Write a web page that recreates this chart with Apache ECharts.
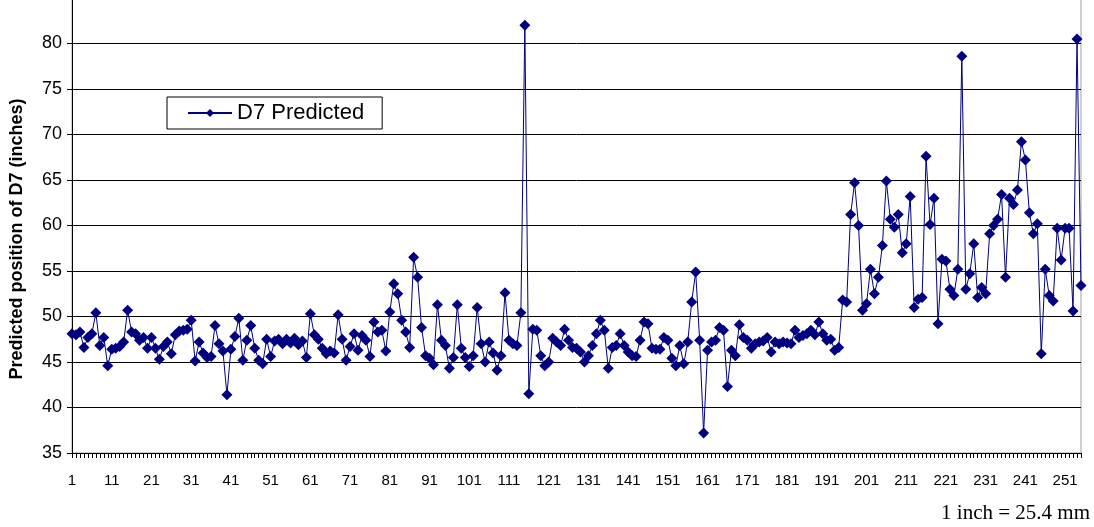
<!DOCTYPE html>
<html>
<head>
<meta charset="utf-8">
<script src="https://cdn.jsdelivr.net/npm/echarts@6/dist/echarts.min.js"></script>
<style>
  html, body { margin: 0; padding: 0; background: #fff; overflow: hidden; }
  /* shifted up a little so the unlabeled 85 line sits just above the page edge */
  #chart { position: absolute; left: 0; top: -10px; width: 1094px; height: 537px; }
</style>
</head>
<body>
<div id="chart"></div>
<script>
// D7 predicted position, one value per sample (inches)
const d7Predicted = [
  48.1, 48.0, 48.3, 46.6, 47.7, 48.1, 50.4, 46.8, 47.7, 44.6,
  46.4, 46.5, 46.7, 47.2, 50.7, 48.3, 48.1, 47.4, 47.7, 46.5,
  47.7, 46.5, 45.3, 46.7, 47.2, 45.9, 48.0, 48.4, 48.5, 48.6,
  49.6, 45.1, 47.2, 46.0, 45.5, 45.6, 49.0, 47.0, 46.2, 41.4,
  46.4, 47.8, 49.8, 45.2, 47.4, 49.0, 46.5, 45.2, 44.8, 47.5,
  45.6, 47.3, 47.5, 47.0, 47.5, 47.1, 47.6, 46.9, 47.3, 45.5,
  50.3, 48.0, 47.5, 46.5, 45.9, 46.2, 46.0, 50.2, 47.5, 45.2,
  46.7, 48.1, 46.3, 47.9, 47.4, 45.6, 49.4, 48.3, 48.5, 46.2,
  50.5, 53.6, 52.5, 49.6, 48.3, 46.6, 56.5, 54.3, 48.8, 45.7,
  45.4, 44.7, 51.3, 47.4, 46.8, 44.3, 45.5, 51.3, 46.5, 45.5,
  44.5, 45.7, 51.0, 47.0, 45.0, 47.2, 46.0, 44.1, 45.7, 52.6,
  47.4, 47.0, 46.8, 50.4, 82.0, 41.5, 48.6, 48.5, 45.7, 44.6,
  45.0, 47.6, 47.2, 46.8, 48.6, 47.4, 46.6, 46.5, 46.1, 45.0,
  45.7, 46.8, 48.1, 49.6, 48.5, 44.3, 46.6, 46.8, 48.1, 46.8,
  46.1, 45.7, 45.6, 47.4, 49.4, 49.2, 46.5, 46.4, 46.4, 47.7,
  47.4, 45.4, 44.6, 46.8, 44.8, 47.2, 51.6, 54.9, 47.4, 37.2,
  46.3, 47.2, 47.4, 48.8, 48.5, 42.3, 46.3, 45.7, 49.1, 47.7,
  47.4, 46.5, 47.0, 47.2, 47.3, 47.7, 46.1, 47.2, 47.0, 47.2,
  47.1, 47.0, 48.5, 47.7, 47.9, 48.1, 48.5, 48.0, 49.4, 48.1,
  47.4, 47.5, 46.3, 46.6, 51.8, 51.6, 61.2, 64.7, 60.0, 50.7,
  51.4, 55.2, 52.5, 54.3, 57.8, 64.9, 60.7, 59.8, 61.2, 57.0,
  58.0, 63.2, 51.0, 51.9, 52.1, 67.6, 60.1, 63.0, 49.2, 56.3,
  56.1, 53.0, 52.3, 55.2, 78.6, 53.0, 54.7, 58.0, 52.1, 53.2,
  52.5, 59.1, 60.0, 60.7, 63.4, 54.3, 63.0, 62.3, 63.9, 69.2,
  67.2, 61.4, 59.1, 60.2, 45.9, 55.2, 52.3, 51.7, 59.7, 56.2,
  59.7, 59.7, 50.6, 80.5, 53.4
];

// sample numbers 1..N (labels shown every 10th)
const samples = d7Predicted.map((v, i) => String(i + 1));

const yMin = 35;
const yMax = 85;
const yStep = 5;

const LINE = "#000080";
const INK = "#000000";

const chart = echarts.init(document.getElementById("chart"));
chart.setOption({
  animation: false,
  backgroundColor: "#ffffff",
  grid: {
    left: 72, right: 13, top: 8, bottom: 74,
    show: true, borderColor: "#a0a0a0", borderWidth: 1
  },
  legend: {
    left: 167, top: 107,
    data: ["D7 Predicted"],
    backgroundColor: "#ffffff",
    borderColor: INK, borderWidth: 1, borderRadius: 0,
    padding: [5, 18, 5, 20],
    itemWidth: 44, itemHeight: 10,
    textStyle: { fontFamily: "Liberation Sans", fontSize: 22, color: INK }
  },
  xAxis: {
    type: "category",
    data: samples,
    boundaryGap: false,
    axisLine: { lineStyle: { color: INK, width: 1 } },
    axisTick: { interval: 0, length: 5, lineStyle: { color: INK } },
    axisLabel: {
      interval: 9, margin: 20, color: INK,
      fontFamily: "Liberation Sans", fontSize: 15
    },
    splitLine: { show: false }
  },
  yAxis: {
    type: "value",
    min: yMin, max: yMax, interval: yStep,
    axisLine: { show: true, lineStyle: { color: INK, width: 1 } },
    axisTick: { show: true, length: 5, lineStyle: { color: INK } },
    axisLabel: {
      margin: 10, color: INK, fontFamily: "Liberation Sans", fontSize: 18,
      formatter: v => (v > 80 ? "" : String(v))
    },
    splitLine: { lineStyle: { color: INK, width: 1 } }
  },
  series: [{
    name: "D7 Predicted",
    type: "line",
    data: d7Predicted,
    symbol: "diamond",
    symbolSize: 11,
    showAllSymbol: true,
    lineStyle: { color: LINE, width: 1 },
    itemStyle: { color: LINE, borderWidth: 0 }
  }],
  graphic: [
    {
      // y axis title
      type: "text",
      x: 17, y: 249,
      rotation: Math.PI / 2,
      style: {
        text: "Predicted position of D7 (inches)",
        font: "bold 18px 'Liberation Sans'",
        fill: INK,
        align: "center",
        verticalAlign: "middle"
      }
    },
    {
      type: "text",
      right: 4, top: 513,
      style: {
        text: "1 inch = 25.4 mm",
        font: "21px 'Liberation Serif'",
        fill: INK
      }
    }
  ]
});
</script>
</body>
</html>
